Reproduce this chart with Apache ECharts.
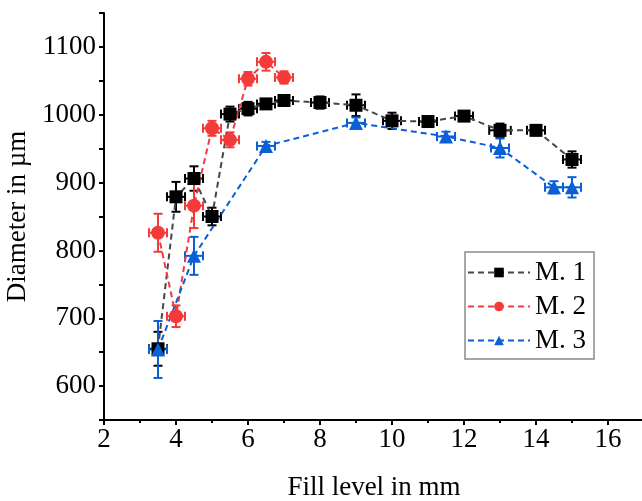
<!DOCTYPE html>
<html>
<head>
<meta charset="utf-8">
<script src="https://cdn.jsdelivr.net/npm/echarts@6/dist/echarts.min.js"></script>
<style>html,body{margin:0;padding:0;background:#fff}#c{width:642px;height:501px}</style>
</head>
<body>
<div id="c"></div>
<script>
// ---- data ----
const seriesNames = ['M. 1', 'M. 2', 'M. 3'];

const m1X    = [3.5, 4, 4.5, 5, 5.5, 6, 6.5, 7, 8, 9, 10, 11, 12, 13, 14, 15];
const m1Y    = [655, 879, 906, 850, 1001, 1009, 1016, 1021, 1018, 1014, 991, 990, 998, 977, 977, 934];
const m1YErr = [25, 22, 18, 13, 11, 10, 6, 5, 9, 16, 12, 6, 7, 10, 7, 12];
const m1XErr = [0.25, 0.25, 0.25, 0.25, 0.25, 0.25, 0.25, 0.25, 0.25, 0.25, 0.25, 0.25, 0.25, 0.3, 0.25, 0.25];

const m2X    = [3.5, 4, 4.5, 5, 5.5, 6, 6.5, 7];
const m2Y    = [826, 703, 866, 980, 963, 1053, 1078, 1055];
const m2YErr = [28, 16, 33, 11, 11, 10, 13, 9];
const m2XErr = [0.25, 0.25, 0.25, 0.25, 0.25, 0.25, 0.25, 0.25];

const m3X    = [3.5, 4.5, 6.5, 9, 11.5, 13, 14.5, 15];
const m3Y    = [654, 792, 954, 988, 968, 951, 893, 893];
const m3YErr = [42, 28, 6, 8, 7, 14, 9, 15];
const m3XErr = [0.25, 0.25, 0.25, 0.25, 0.25, 0.25, 0.25, 0.25];

const xLabels = [2, 4, 6, 8, 10, 12, 14, 16];
const yLabels = [600, 700, 800, 900, 1000, 1100];

// ---- chart ----
const FONT = '"Liberation Serif", "Times New Roman", serif';
const colors = { black: '#000000', blackLine: '#474747', red: '#f53a3a', blue: '#0a5fd6' };

function pts(xs, ys) { return xs.map((x, i) => [x, ys[i]]); }

function errSeries(name, xs, ys, ye, xe, color) {
  return {
    type: 'custom',
    name: name,
    silent: true,
    data: xs.map((x, i) => [x, ys[i], ye[i], xe[i]]),
    encode: { x: 0, y: 1 },
    renderItem: function (params, api) {
      const x = api.value(0), y = api.value(1), ey = api.value(2), ex = api.value(3);
      const t = api.coord([x, y + ey]), b = api.coord([x, y - ey]);
      const l = api.coord([x - ex, y]), r = api.coord([x + ex, y]);
      const c = 4.5;
      const st = { stroke: color, lineWidth: 2 };
      const ln = (x1, y1, x2, y2) => ({ type: 'line', shape: { x1, y1, x2, y2 }, style: st });
      return {
        type: 'group',
        children: [
          ln(t[0], t[1], b[0], b[1]),
          ln(t[0] - c, t[1], t[0] + c, t[1]),
          ln(b[0] - c, b[1], b[0] + c, b[1]),
          ln(l[0], l[1], r[0], r[1]),
          ln(l[0], l[1] - c, l[0], l[1] + c),
          ln(r[0], r[1] - c, r[0], r[1] + c)
        ]
      };
    }
  };
}

function lineSeries(name, xs, ys, symbol, size, markColor, lineColor) {
  return {
    type: 'line',
    name: name,
    data: pts(xs, ys),
    symbol: symbol,
    symbolSize: size,
    itemStyle: { color: markColor },
    lineStyle: { color: lineColor, width: 2, type: [6, 4] },
    emphasis: { disabled: true },
    animation: false
  };
}

const chart = echarts.init(document.getElementById('c'), null, { renderer: 'canvas' });
chart.setOption({
  animation: false,
  backgroundColor: '#ffffff',
  grid: { left: 104, right: -2, top: 13, bottom: 81, containLabel: false, outerBoundsMode: 'none' },
  xAxis: {
    type: 'value', min: 2, max: 17, interval: 2,
    name: 'Fill level in mm', nameLocation: 'middle', nameGap: 54,
    nameTextStyle: { fontFamily: FONT, fontSize: 27, color: '#000' },
    axisLine: { show: true, onZero: false, lineStyle: { color: '#000', width: 2 } },
    axisTick: { show: true, length: 5, lineStyle: { color: '#000', width: 2 } },
    minorTick: { show: true, splitNumber: 2, length: 3, lineStyle: { color: '#000', width: 2 } },
    splitLine: { show: false },
    axisLabel: {
      fontFamily: FONT, fontSize: 27, color: '#000', margin: 6,
      formatter: v => (xLabels.indexOf(v) >= 0 ? String(v) : '')
    }
  },
  yAxis: {
    type: 'value', min: 550, max: 1150, interval: 50,
    name: 'Diameter in µm', nameLocation: 'middle', nameGap: 70,
    nameTextStyle: { fontFamily: FONT, fontSize: 27, color: '#000' },
    axisLine: { show: true, onZero: false, lineStyle: { color: '#000', width: 2 } },
    axisTick: { show: true, length: 5, lineStyle: { color: '#000', width: 2 } },
    splitLine: { show: false },
    axisLabel: {
      fontFamily: FONT, fontSize: 27, color: '#000', margin: 8,
      formatter: v => (yLabels.indexOf(v) >= 0 ? String(v) : '')
    }
  },
  legend: {
    data: seriesNames,
    orient: 'vertical',
    left: 465, top: 252,
    padding: [7, 8, 5, 2],
    itemGap: 7,
    itemWidth: 62, itemHeight: 12,
    borderColor: '#8a8a8a', borderWidth: 1.5,
    textStyle: { fontFamily: FONT, fontSize: 27, color: '#000' }
  },
  series: [
    errSeries('e1', m1X, m1Y, m1YErr, m1XErr, colors.black),
    lineSeries(seriesNames[0], m1X, m1Y, 'rect', 13, colors.black, colors.blackLine),
    errSeries('e2', m2X, m2Y, m2YErr, m2XErr, colors.red),
    lineSeries(seriesNames[1], m2X, m2Y, 'circle', 14, colors.red, colors.red),
    errSeries('e3', m3X, m3Y, m3YErr, m3XErr, colors.blue),
    lineSeries(seriesNames[2], m3X, m3Y, 'triangle', 14, colors.blue, colors.blue)
  ]
});
</script>
</body>
</html>
